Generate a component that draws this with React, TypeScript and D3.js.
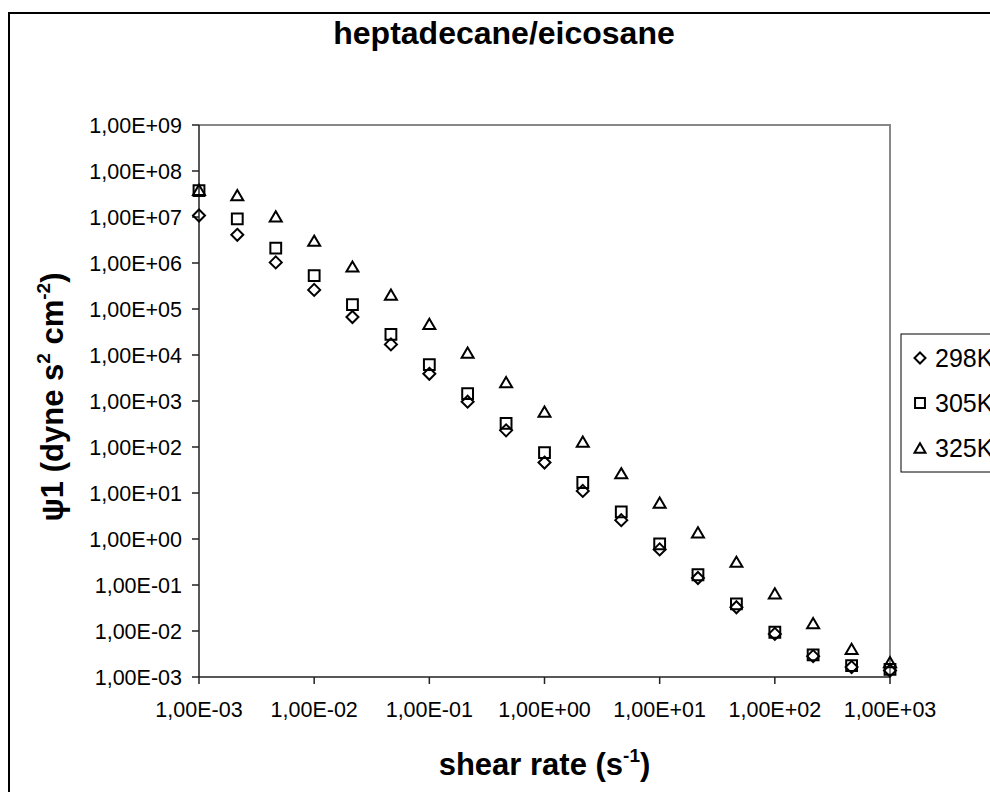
import React from "react";
import * as d3 from "d3";

// Shear rate (s^-1), three points per decade
const shearRate = [
  0.001, 0.00215, 0.00464, 0.01, 0.0215, 0.0464, 0.1, 0.215, 0.464, 1, 2.15,
  4.64, 10, 21.5, 46.4, 100, 215, 464, 1000,
];

// First normal stress coefficient psi1 (dyne s^2 cm^-2) per temperature
const psi298 = [
  1.08e7, 4.1e6, 1.03e6, 2.6e5, 6.7e4, 1.7e4, 3.9e3, 966, 230, 45.9, 11.1,
  2.57, 0.594, 0.142, 0.0328, 0.00865, 0.00284, 0.00164, 0.00138,
];
const psi305 = [
  3.76e7, 9.1e6, 2.1e6, 5.3e5, 1.24e5, 2.8e4, 6.2e3, 1.44e3, 327, 75.5, 16.9,
  3.89, 0.787, 0.167, 0.0387, 0.0094, 0.00303, 0.00177, 0.00146,
];
const psi325 = [
  3.9e7, 3.0e7, 1.03e7, 3.05e6, 8.4e5, 2.05e5, 4.75e4, 1.13e4, 2.57e3, 586,
  131, 26.9, 6.2, 1.39, 0.32, 0.066, 0.0148, 0.00409, 0.0021,
];

const seriesNames = ["298K", "305K", "325K"];
const seriesShapes = ["diamond", "square", "triangle"];

const xTickValues = [1e-3, 1e-2, 1e-1, 1e0, 1e1, 1e2, 1e3];
const xTickLabels = [
  "1,00E-03", "1,00E-02", "1,00E-01", "1,00E+00", "1,00E+01", "1,00E+02", "1,00E+03",
];
const yTickValues = [1e9, 1e8, 1e7, 1e6, 1e5, 1e4, 1e3, 1e2, 1e1, 1e0, 1e-1, 1e-2, 1e-3];
const yTickLabels = [
  "1,00E+09", "1,00E+08", "1,00E+07", "1,00E+06", "1,00E+05", "1,00E+04",
  "1,00E+03", "1,00E+02", "1,00E+01", "1,00E+00", "1,00E-01", "1,00E-02", "1,00E-03",
];

const W = 990;
const H = 792;
const plot = { left: 199, right: 890, top: 125, bottom: 677 };
const FONT = "'Liberation Sans', Arial, sans-serif";

function Marker({ shape, x, y, s }: { shape: string; x: number; y: number; s: number }) {
  const h = s / 2;
  let d = "";
  if (shape === "diamond") {
    d = `M${x},${y - h}L${x + h},${y}L${x},${y + h}L${x - h},${y}Z`;
  } else if (shape === "square") {
    const q = h * 0.9;
    d = `M${x - q},${y - q}H${x + q}V${y + q}H${x - q}Z`;
  } else {
    const th = h * 0.85;
    d = `M${x},${y - th}L${x + h},${y + th}L${x - h},${y + th}Z`;
  }
  return <path d={d} fill="none" stroke="#000" strokeWidth={2} strokeLinejoin="miter" />;
}

export default function App() {
  const x = d3.scaleLog().domain([1e-3, 1e3]).range([plot.left, plot.right]);
  const y = d3.scaleLog().domain([1e-3, 1e9]).range([plot.bottom, plot.top]);
  const series = [psi298, psi305, psi325];

  return (
    <svg width={W} height={H} style={{ display: "block", position: "absolute", left: 0, top: 0 }}>
      <rect x={0} y={0} width={W} height={H} fill="#fff" />
      {/* chart frame */}
      <rect x={9} y={13} width={1100} height={900} fill="none" stroke="#000" strokeWidth={2} />

      <text x={504} y={44} textAnchor="middle" fontFamily={FONT} fontWeight="bold" fontSize={32}>
        heptadecane/eicosane
      </text>

      {/* plot area: grey top/right border */}
      <path
        d={`M${plot.left},${plot.top}H${plot.right}V${plot.bottom}`}
        fill="none"
        stroke="#888"
        strokeWidth={2}
      />
      {/* axes */}
      <path
        d={`M${plot.left},${plot.top}V${plot.bottom}H${plot.right}`}
        fill="none"
        stroke="#222"
        strokeWidth={1.5}
      />

      {yTickValues.map((v, i) => (
        <g key={"yt" + i}>
          <line x1={plot.left - 7} x2={plot.left} y1={y(v)} y2={y(v)} stroke="#222" strokeWidth={1.5} />
          <text
            x={182}
            y={y(v)}
            dy="0.36em"
            textAnchor="end"
            fontFamily={FONT}
            fontSize={21.5}
          >
            {yTickLabels[i]}
          </text>
        </g>
      ))}

      {xTickValues.map((v, i) => (
        <g key={"xt" + i}>
          <line x1={x(v)} x2={x(v)} y1={plot.bottom} y2={plot.bottom + 7} stroke="#222" strokeWidth={1.5} />
          <text x={x(v)} y={717} textAnchor="middle" fontFamily={FONT} fontSize={21.5}>
            {xTickLabels[i]}
          </text>
        </g>
      ))}

      {/* x axis title */}
      <text x={(plot.left + plot.right) / 2} y={775} textAnchor="middle" fontFamily={FONT} fontWeight="bold" fontSize={31}>
        shear rate (s
        <tspan fontSize={19} dy={-13}>-1</tspan>
        <tspan dy={13}>)</tspan>
      </text>

      {/* y axis title */}
      <text
        transform={`translate(63,397) rotate(-90)`}
        textAnchor="middle"
        fontFamily={FONT}
        fontWeight="bold"
        fontSize={31}
      >
        ψ1 (dyne s
        <tspan fontSize={19} dy={-13}>2</tspan>
        <tspan dy={13}> cm</tspan>
        <tspan fontSize={19} dy={-13}>-2</tspan>
        <tspan dy={13}>)</tspan>
      </text>

      {/* data points */}
      {series.map((vals, si) => (
        <g key={"s" + si}>
          {vals.map((v, i) => (
            <Marker key={i} shape={seriesShapes[si]} x={x(shearRate[i])} y={y(v)} s={12} />
          ))}
        </g>
      ))}

      {/* legend, running past the right edge of the frame */}
      <rect x={901} y={334} width={200} height={138} fill="#fff" stroke="#000" strokeWidth={1} />
      {seriesNames.map((name, i) => (
        <g key={"lg" + i}>
          <Marker shape={seriesShapes[i]} x={920} y={358 + i * 45} s={11} />
          <text x={935} y={358 + i * 45} dy="0.36em" fontFamily={FONT} fontSize={25}>
            {name}
          </text>
        </g>
      ))}
    </svg>
  );
}
